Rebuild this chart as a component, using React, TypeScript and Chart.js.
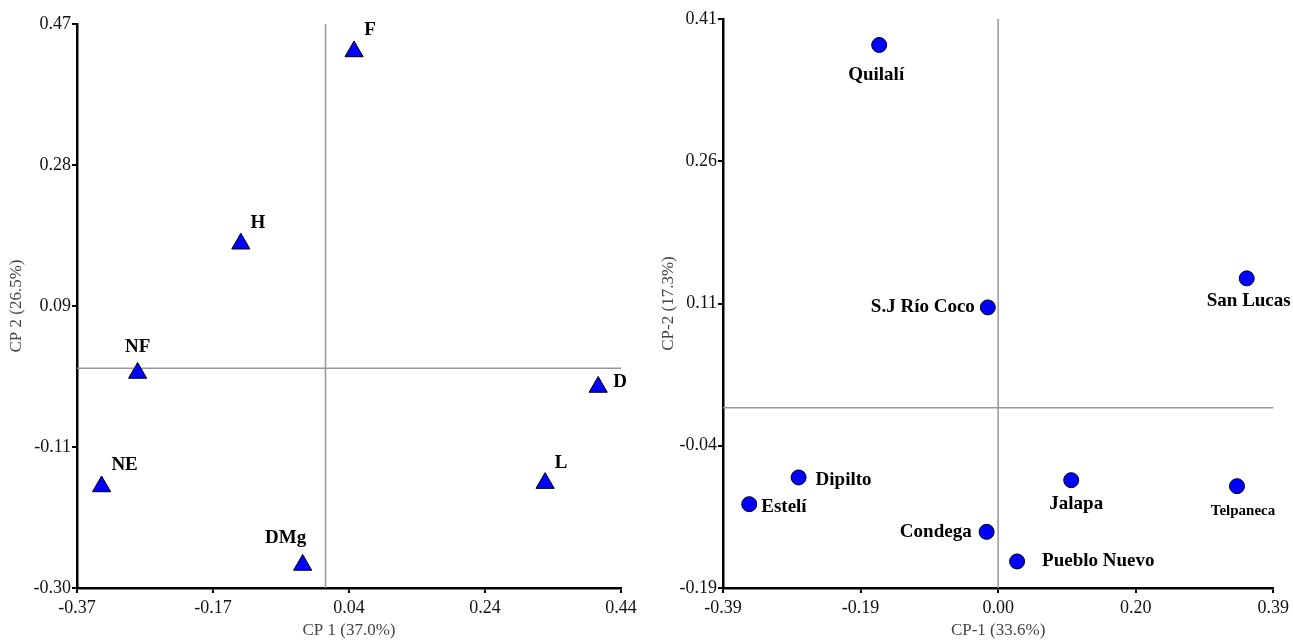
import React, { useEffect, useRef } from 'react';
import { Chart, registerables } from 'chart.js';

Chart.register(...registerables);

// ---------- Left panel: variables (CP 1 vs CP 2) ----------
const varNames = ['F', 'H', 'NF', 'D', 'NE', 'L', 'DMg'];
const varCP1 = [0.0425, -0.126, -0.2797, 0.406, -0.3334, 0.327, -0.034];
const varCP2 = [0.4325, 0.17, -0.0065, -0.0256, -0.1614, -0.1568, -0.2686];
const leftXTickLabels = ['-0.37', '-0.17', '0.04', '0.24', '0.44'];
const leftYTickLabels = ['-0.30', '-0.11', '0.09', '0.28', '0.47'];
const leftXTitle = 'CP 1 (37.0%)';
const leftYTitle = 'CP 2 (26.5%)';

// ---------- Right panel: municipalities (CP-1 vs CP-2) ----------
const siteNames = ['Quilalí', 'S.J Río Coco', 'San Lucas', 'Dipilto', 'Estelí', 'Condega', 'Pueblo Nuevo', 'Jalapa', 'Telpaneca'];
const siteCP1 = [-0.1686, -0.0146, 0.3524, -0.2828, -0.3528, -0.0163, 0.0269, 0.1036, 0.3386];
const siteCP2 = [0.3826, 0.1059, 0.1365, -0.0734, -0.1016, -0.1308, -0.162, -0.0763, -0.0826];
const rightXTickLabels = ['-0.39', '-0.19', '0.00', '0.20', '0.39'];
const rightYTickLabels = ['-0.19', '-0.04', '0.11', '0.26', '0.41'];
const rightXTitle = 'CP-1 (33.6%)';
const rightYTitle = 'CP-2 (17.3%)';

// ---------- Label placement (style only) ----------
type Place = { dx: number; dy: number; align: CanvasTextAlign; size?: number };
const leftPlacement: Place[] = [
  { dx: 16, dy: -21, align: 'center' },
  { dx: 17, dy: -21, align: 'center' },
  { dx: 0, dy: -26, align: 'center' },
  { dx: 22, dy: -5, align: 'center' },
  { dx: 23, dy: -21, align: 'center' },
  { dx: 16, dy: -20, align: 'center' },
  { dx: -17, dy: -27, align: 'center' },
];
const rightPlacement: Place[] = [
  { dx: -3, dy: 30, align: 'center' },
  { dx: -13, dy: 0, align: 'right' },
  { dx: 2, dy: 23, align: 'center' },
  { dx: 17, dy: 3, align: 'left' },
  { dx: 12, dy: 3, align: 'left' },
  { dx: -15, dy: 0, align: 'right' },
  { dx: 25, dy: 0, align: 'left' },
  { dx: 5, dy: 24, align: 'center' },
  { dx: 6, dy: 25, align: 'center', size: 15 },
];

const FONT = '"Liberation Serif", "Times New Roman", serif';

type PanelProps = {
  left: number;
  width: number;
  height: number;
  xs: number[];
  ys: number[];
  names: string[];
  placement: Place[];
  xTickLabels: string[];
  yTickLabels: string[];
  xTitle: string;
  yTitle: string;
  pointStyle: 'triangle' | 'circle';
  radius: number;
  yAxisWidth: number;
  xAxisHeight: number;
  padTop: number;
  padRight: number;
  yTitlePad: number;
};

const evenTicks = (labels: string[]) => {
  const min = parseFloat(labels[0]);
  const max = parseFloat(labels[labels.length - 1]);
  const n = labels.length - 1;
  return labels.map((_, i) => ({ value: min + ((max - min) * i) / n }));
};

function Panel(p: PanelProps) {
  const ref = useRef<HTMLCanvasElement | null>(null);
  useEffect(() => {
    if (!ref.current) return;
    const zeroLines = {
      id: 'zeroLines',
      beforeDatasetsDraw(chart: any) {
        const { ctx, chartArea, scales } = chart;
        const x0 = scales.x.getPixelForValue(0);
        const y0 = scales.y.getPixelForValue(0);
        ctx.save();
        ctx.strokeStyle = 'rgb(150,150,150)';
        ctx.lineWidth = 1.5;
        ctx.beginPath();
        ctx.moveTo(x0, chartArea.top);
        ctx.lineTo(x0, chartArea.bottom);
        ctx.moveTo(chartArea.left, y0);
        ctx.lineTo(chartArea.right, y0);
        ctx.stroke();
        ctx.restore();
      },
    };
    const pointLabels = {
      id: 'pointLabels',
      afterDatasetsDraw(chart: any) {
        const { ctx } = chart;
        const meta = chart.getDatasetMeta(0);
        ctx.save();
        ctx.fillStyle = '#000';
        ctx.textBaseline = 'middle';
        meta.data.forEach((el: any, i: number) => {
          const pl = p.placement[i];
          ctx.font = `bold ${pl.size ?? 19}px ${FONT}`;
          ctx.textAlign = pl.align;
          ctx.fillText(p.names[i], el.x + pl.dx, el.y + pl.dy);
        });
        ctx.restore();
      },
    };
    const tickFont = { family: FONT, size: 18 };
    const titleFont = { family: FONT, size: 17 };
    const chart = new Chart(ref.current, {
      type: 'scatter',
      data: {
        datasets: [
          {
            data: p.xs.map((x, i) => ({ x, y: p.ys[i] })),
            pointStyle: p.pointStyle,
            pointRadius: p.radius,
            pointHoverRadius: p.radius,
            backgroundColor: '#0000FF',
            borderColor: '#000000',
            borderWidth: 1,
          },
        ],
      },
      options: {
        responsive: false,
        animation: false,
        events: [],
        layout: { padding: { left: 0, right: p.padRight, top: p.padTop, bottom: 0 } },
        plugins: { legend: { display: false }, tooltip: { enabled: false } },
        scales: {
          x: {
            type: 'linear',
            position: 'bottom',
            min: parseFloat(p.xTickLabels[0]),
            max: parseFloat(p.xTickLabels[p.xTickLabels.length - 1]),
            afterBuildTicks: (s: any) => {
              s.ticks = evenTicks(p.xTickLabels);
            },
            afterFit: (s: any) => {
              s.height = p.xAxisHeight;
            },
            ticks: {
              callback: (_v: any, i: number) => p.xTickLabels[i],
              color: '#111',
              font: tickFont,
              padding: 4,
              maxRotation: 0,
              autoSkip: false,
            },
            grid: { drawOnChartArea: false, drawTicks: true, tickLength: 5, color: '#000', lineWidth: 2 },
            border: { display: true, color: '#000', width: 2.5 },
            title: { display: true, text: p.xTitle, color: '#444', font: titleFont, padding: { top: 0, bottom: 0 } },
          },
          y: {
            type: 'linear',
            position: 'left',
            min: parseFloat(p.yTickLabels[0]),
            max: parseFloat(p.yTickLabels[p.yTickLabels.length - 1]),
            afterBuildTicks: (s: any) => {
              s.ticks = evenTicks(p.yTickLabels);
            },
            afterFit: (s: any) => {
              s.width = p.yAxisWidth;
            },
            ticks: {
              callback: (_v: any, i: number) => p.yTickLabels[i],
              color: '#111',
              font: tickFont,
              padding: 1,
              autoSkip: false,
            },
            grid: { drawOnChartArea: false, drawTicks: true, tickLength: 5, color: '#000', lineWidth: 2 },
            border: { display: true, color: '#000', width: 2.5 },
            title: { display: true, text: p.yTitle, color: '#444', font: titleFont, padding: { top: p.yTitlePad, bottom: 0 } },
          },
        },
      },
      plugins: [zeroLines, pointLabels],
    } as any);
    return () => chart.destroy();
  }, []);
  return (
    <canvas
      ref={ref}
      width={p.width}
      height={p.height}
      style={{ position: 'absolute', left: p.left, top: 0, width: p.width, height: p.height }}
    />
  );
}

export default function App() {
  return (
    <div style={{ position: 'fixed', left: 0, top: 0, width: 1293, height: 641, background: '#fff', overflow: 'hidden' }}>
      <Panel
        left={0}
        width={650}
        height={641}
        xs={varCP1}
        ys={varCP2}
        names={varNames}
        placement={leftPlacement}
        xTickLabels={leftXTickLabels}
        yTickLabels={leftYTickLabels}
        xTitle={leftXTitle}
        yTitle={leftYTitle}
        pointStyle="triangle"
        radius={10.5}
        yAxisWidth={77}
        xAxisHeight={53}
        padTop={24}
        padRight={29}
        yTitlePad={6}
      />
      <Panel
        left={650}
        width={643}
        height={641}
        xs={siteCP1}
        ys={siteCP2}
        names={siteNames}
        placement={rightPlacement}
        xTickLabels={rightXTickLabels}
        yTickLabels={rightYTickLabels}
        xTitle={rightXTitle}
        yTitle={rightYTitle}
        pointStyle="circle"
        radius={7.5}
        yAxisWidth={73}
        xAxisHeight={53}
        padTop={19}
        padRight={19}
        yTitlePad={8}
      />
    </div>
  );
}
